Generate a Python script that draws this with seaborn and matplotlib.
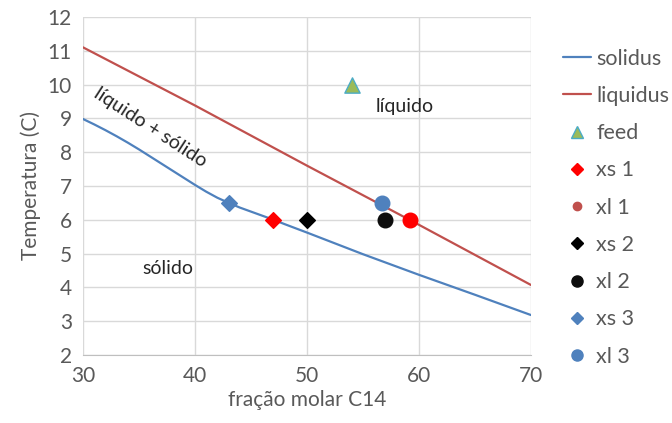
import numpy as np
import pandas as pd
import matplotlib
matplotlib.use("Agg")
import matplotlib.pyplot as plt
from matplotlib.lines import Line2D
import seaborn as sns

# curves
solidus_x = [30, 31, 32, 33, 34, 35, 36, 37, 38, 39, 40, 41, 42, 43, 44, 45,
             46, 47, 48, 50, 55, 60, 65, 70]
solidus_y = [8.98, 8.82, 8.65, 8.47, 8.28, 8.08, 7.87, 7.66, 7.45, 7.24, 7.03,
             6.83, 6.65, 6.5, 6.36, 6.24, 6.12, 6.0, 5.87, 5.62, 4.98, 4.37, 3.78, 3.18]
liquidus_x = [30, 40, 50, 60, 70]
liquidus_y = [11.1, 9.38, 7.6, 5.85, 4.07]

# single points
feed = (54, 10)
xs1 = (47, 6)
xl1 = (59.2, 6)
xs2 = (50, 6)
xl2 = (57, 6)
xs3 = (43, 6.5)
xl3 = (56.7, 6.5)

sns.set_style("white")
plt.rcParams['font.family'] = ['Lato', 'DejaVu Sans']

fig = plt.figure(figsize=(6.72, 4.23), dpi=100)
ax = fig.add_axes([0.1235, 0.161, 0.6665, 0.799])

blue = '#4F81BD'
red = '#C0504D'

sol = pd.DataFrame({'x': solidus_x, 'y': solidus_y})
liq = pd.DataFrame({'x': liquidus_x, 'y': liquidus_y})
sns.lineplot(data=sol, x='x', y='y', color=blue, lw=1.6, ax=ax, label='solidus')
sns.lineplot(data=liq, x='x', y='y', color=red, lw=1.6, ax=ax, label='liquidus')

pts = [
    ('feed', feed, '^', '#9BBB59', '#4BACC6', 11),
    ('xs 1', xs1, 'D', '#FF0000', '#FF0000', 8),
    ('xl 1', xl1, 'o', '#FF0000', '#FF0000', 10.5),
    ('xs 2', xs2, 'D', '#000000', '#000000', 8),
    ('xl 2', xl2, 'o', '#0D0D0D', '#0D0D0D', 10.5),
    ('xs 3', xs3, 'D', blue, blue, 8),
    ('xl 3', xl3, 'o', blue, blue, 10.5),
]
for name, (px, py), m, fc, ec, s in pts:
    sns.scatterplot(x=[px], y=[py], marker=m, color=fc, edgecolor=ec,
                    s=s ** 2, linewidth=1, ax=ax, zorder=5)

ax.set_xlim(30, 70)
ax.set_ylim(2, 12)
ax.set_xticks(range(30, 71, 10))
ax.set_yticks(range(2, 13))
ax.grid(True, color='#D9D9D9', lw=1)
ax.set_axisbelow(True)
for s in ['top', 'right', 'left']:
    ax.spines[s].set_visible(False)
ax.spines['bottom'].set_color('#BFBFBF')
ax.tick_params(axis='both', length=0, labelsize=15, labelcolor='#595959', pad=8)
ax.set_xlabel('fração molar C14', fontsize=15, color='#595959', labelpad=3)
ax.set_ylabel('Temperatura (C)', fontsize=15, color='#595959', labelpad=5)

ax.text(36, 8.72, 'líquido + sólido', rotation=-33, ha='center', va='center', fontsize=14)
ax.text(58.75, 9.34, 'líquido', ha='center', va='center', fontsize=14)
ax.text(37.6, 4.57, 'sólido', ha='center', va='center', fontsize=14)

handles = [
    Line2D([], [], color=blue, lw=1.6),
    Line2D([], [], color=red, lw=1.6),
]
for name, _, m, fc, ec, s in pts:
    if name == 'xl 1':
        handles.append(Line2D([], [], ls='', marker='o', color=red, markersize=6))
    else:
        handles.append(Line2D([], [], ls='', marker=m, markerfacecolor=fc,
                              markeredgecolor=ec, markersize=8 if m != 'D' else 6))
labels = ['solidus', 'liquidus'] + [p[0] for p in pts]
ax.legend(handles, labels, loc='upper left', bbox_to_anchor=(0.825, 0.905),
          bbox_transform=fig.transFigure, frameon=False, fontsize=15.5,
          labelcolor='#595959', handlelength=1.3, handletextpad=0.25,
          labelspacing=0.8, borderaxespad=0)

fig.savefig('out.png', dpi=100)
